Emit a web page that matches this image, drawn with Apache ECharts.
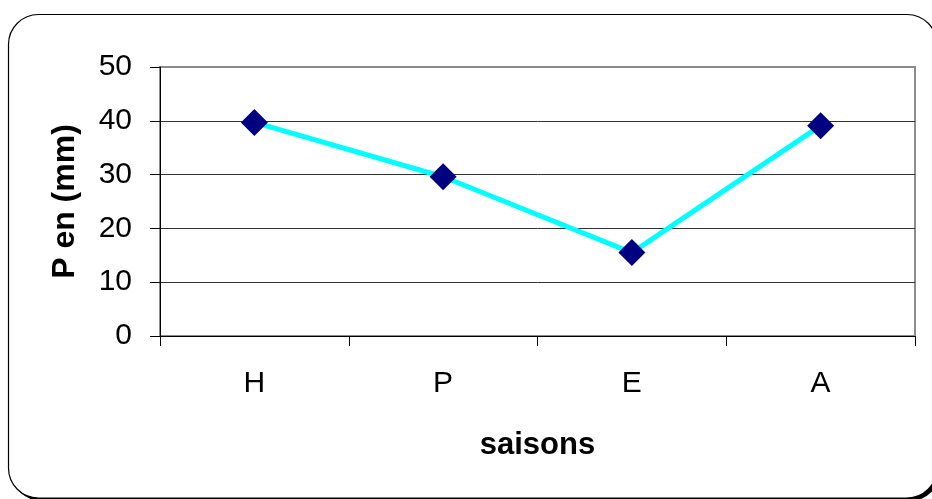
<!DOCTYPE html>
<html>
<head>
<meta charset="utf-8">
<script src="https://cdn.jsdelivr.net/npm/echarts@6/dist/echarts.min.js"></script>
<style>
  html, body { margin: 0; padding: 0; background: #fff; }
  #chart { width: 932px; height: 499px; }
</style>
</head>
<body>
<div id="chart"></div>
<script>
// Seasons (Hiver, Printemps, Eté, Automne) and precipitation in mm
const seasons = ['H', 'P', 'E', 'A'];
const precipitation = [39.7, 29.6, 15.5, 39.1];
const yTicks = { min: 0, max: 50, interval: 10 };

const chart = echarts.init(document.getElementById('chart'), null, { renderer: 'canvas' });
const font = '"Liberation Sans", Arial, sans-serif';

chart.setOption({
  animation: false,
  backgroundColor: '#ffffff',
  graphic: [
    {
      // drop shadow of the frame
      type: 'rect', z: -10, silent: true,
      shape: { x: 11.5, y: 17.5, width: 928.5, height: 483.5, r: 30 },
      style: { fill: '#000000' }
    },
    {
      // rounded chart frame
      type: 'rect', z: -9, silent: true,
      shape: { x: 8.5, y: 14.5, width: 928.5, height: 483.5, r: 30 },
      style: { fill: '#ffffff', stroke: '#000000', lineWidth: 1.2 }
    }
  ],
  grid: {
    left: 160, right: 17, top: 67, bottom: 163,
    show: true, borderColor: '#8c8c8c', borderWidth: 2, backgroundColor: 'transparent'
  },
  xAxis: {
    type: 'category',
    data: seasons,
    boundaryGap: true,
    name: 'saisons',
    nameLocation: 'middle',
    nameGap: 94,
    nameTextStyle: { fontFamily: font, fontSize: 31, fontWeight: 'bold', color: '#000' },
    axisLine: { lineStyle: { color: '#000', width: 1 } },
    axisTick: { show: true, length: 10, inside: false, alignWithLabel: false, lineStyle: { color: '#000' } },
    axisLabel: { margin: 33, fontFamily: font, fontSize: 30, color: '#000' },
    splitLine: { show: false }
  },
  yAxis: {
    type: 'value',
    min: yTicks.min, max: yTicks.max, interval: yTicks.interval,
    name: 'P en (mm)',
    nameLocation: 'middle',
    nameGap: 79,
    nameRotate: 90,
    nameTextStyle: { fontFamily: font, fontSize: 32, fontWeight: 'bold', color: '#000' },
    axisLine: { show: true, lineStyle: { color: '#000', width: 1 } },
    axisTick: { show: true, length: 10, inside: false, lineStyle: { color: '#000' } },
    axisLabel: { margin: 28, fontFamily: font, fontSize: 30, color: '#000' },
    splitLine: { show: true, showMaxLine: false, lineStyle: { color: '#333', width: 1 } }
  },
  series: [{
    type: 'line',
    data: precipitation,
    symbol: 'diamond',
    symbolSize: 27,
    itemStyle: { color: '#000080' },
    lineStyle: { color: '#00ffff', width: 5 },
    z: 5
  }]
});
</script>
</body>
</html>
